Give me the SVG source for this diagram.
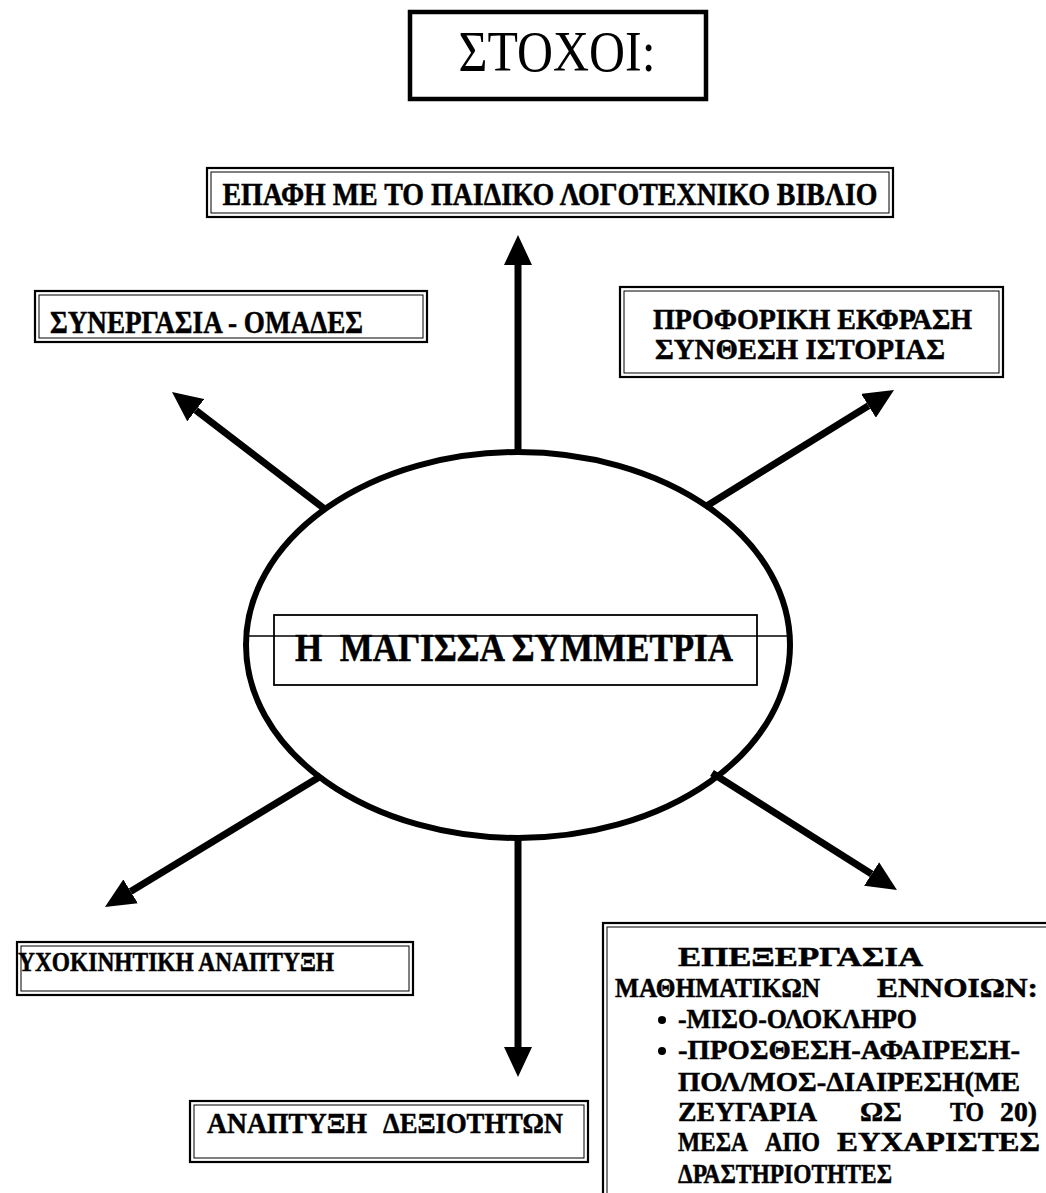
<svg xmlns="http://www.w3.org/2000/svg" width="1046" height="1193" viewBox="0 0 1046 1193">
<style>
.t{font-family:"Liberation Serif","Times New Roman",serif;font-weight:bold;fill:#000;stroke:#000;stroke-width:0.5}
.m{font-size:28px}
.o{fill:none;stroke:#000;stroke-width:2.2}
.i{fill:none;stroke:#000;stroke-width:1}
.ar{stroke:#000;stroke-width:7;fill:none}
</style>
<defs>
<marker id="ah" viewBox="0 0 30 28" refX="0" refY="14" markerWidth="30" markerHeight="28" markerUnits="userSpaceOnUse" orient="auto">
<path d="M0,0 L30,14 L0,28 z" fill="#000"/>
</marker>
</defs>
<rect width="1046" height="1193" fill="#fff"/>

<g id="title">
<rect x="410" y="12" width="296" height="87" fill="#fff" stroke="#000" stroke-width="4.5"/>
<text x="557" y="71" text-anchor="middle" font-family="Liberation Serif, Times New Roman, serif" font-size="57" textLength="197" lengthAdjust="spacingAndGlyphs">ΣΤΟΧΟΙ:</text>
</g>

<g id="connectors">
<line class="ar" x1="518" y1="454" x2="518" y2="265" marker-end="url(#ah)"/>
<line class="ar" x1="326" y1="510" x2="195.8" y2="410.2" marker-end="url(#ah)"/>
<line class="ar" x1="705" y1="507" x2="868.5" y2="405.8" marker-end="url(#ah)"/>
<line class="ar" x1="321" y1="776" x2="130.6" y2="891.4" marker-end="url(#ah)"/>
<line class="ar" x1="712" y1="773" x2="871.6" y2="874" marker-end="url(#ah)"/>
<line class="ar" x1="518" y1="836" x2="518" y2="1047" marker-end="url(#ah)"/>
</g>

<g id="center">
<ellipse cx="518" cy="645" rx="272" ry="193" fill="none" stroke="#000" stroke-width="6"/>
<rect x="274" y="615" width="483" height="70" fill="none" stroke="#000" stroke-width="1.8"/>
<line x1="248" y1="636" x2="790" y2="636" stroke="#000" stroke-width="1.5"/>
<text class="t" x="295" y="661" font-size="40" textLength="438" lengthAdjust="spacingAndGlyphs" xml:space="preserve">Η  ΜΑΓΙΣΣΑ ΣΥΜΜΕΤΡΙΑ</text>
</g>

<g id="top-goal">
<rect class="o" x="207" y="168" width="686" height="49"/>
<rect class="i" x="211" y="172" width="678" height="41"/>
<text class="t" x="550" y="205" font-size="31" text-anchor="middle" textLength="655" lengthAdjust="spacingAndGlyphs">ΕΠΑΦΗ ΜΕ ΤΟ ΠΑΙΔΙΚΟ ΛΟΓΟΤΕΧΝΙΚΟ ΒΙΒΛΙΟ</text>
</g>

<g id="cooperation">
<rect class="o" x="35" y="291" width="392" height="51"/>
<rect class="i" x="39" y="295" width="384" height="43"/>
<text class="t" x="50" y="333" font-size="31" textLength="313" lengthAdjust="spacingAndGlyphs">ΣΥΝΕΡΓΑΣΙΑ - ΟΜΑΔΕΣ</text>
</g>

<g id="oral">
<rect class="o" x="620" y="287" width="383" height="90"/>
<rect class="i" x="624" y="291" width="375" height="82"/>
<text class="t" x="653" y="329" font-size="30" textLength="319" lengthAdjust="spacingAndGlyphs">ΠΡΟΦΟΡΙΚΗ ΕΚΦΡΑΣΗ</text>
<text class="t" x="655" y="359" font-size="30" textLength="290" lengthAdjust="spacingAndGlyphs">ΣΥΝΘΕΣΗ ΙΣΤΟΡΙΑΣ</text>
</g>

<g id="psychomotor">
<rect class="o" x="17" y="942" width="396" height="53"/>
<rect class="i" x="21" y="946" width="388" height="45"/>
<text class="t" x="18" y="971" font-size="28" textLength="316" lengthAdjust="spacingAndGlyphs">ΥΧΟΚΙΝΗΤΙΚΗ ΑΝΑΠΤΥΞΗ</text>
</g>

<g id="skills">
<rect class="o" x="190" y="1101" width="398" height="61"/>
<rect class="i" x="194" y="1105" width="390" height="53"/>
<text class="t" x="207" y="1133" font-size="30" textLength="160" lengthAdjust="spacingAndGlyphs">ΑΝΑΠΤΥΞΗ</text>
<text class="t" x="383" y="1133" font-size="30" textLength="180" lengthAdjust="spacingAndGlyphs">ΔΕΞΙΟΤΗΤΩΝ</text>
</g>

<g id="math">
<rect class="o" x="603" y="923" width="460" height="300"/>
<rect class="i" x="607" y="927" width="452" height="292"/>
<text class="t m" x="678" y="966" textLength="245" lengthAdjust="spacingAndGlyphs">ΕΠΕΞΕΡΓΑΣΙΑ</text>
<text class="t m" x="615" y="997" textLength="205" lengthAdjust="spacingAndGlyphs">ΜΑΘΗΜΑΤΙΚΩΝ</text>
<text class="t m" x="877" y="997" textLength="161" lengthAdjust="spacingAndGlyphs">ΕΝΝΟΙΩΝ:</text>
<circle cx="662" cy="1020" r="4" fill="#000"/>
<text class="t m" x="678" y="1028" textLength="239" lengthAdjust="spacingAndGlyphs">-ΜΙΣΟ-ΟΛΟΚΛΗΡΟ</text>
<circle cx="662" cy="1051" r="4" fill="#000"/>
<text class="t m" x="678" y="1059" textLength="342" lengthAdjust="spacingAndGlyphs">-ΠΡΟΣΘΕΣΗ-ΑΦΑΙΡΕΣΗ-</text>
<text class="t m" x="678" y="1091" textLength="342" lengthAdjust="spacingAndGlyphs">ΠΟΛ/ΜΟΣ-ΔΙΑΙΡΕΣΗ(ΜΕ</text>
<text class="t m" x="678" y="1121" textLength="139" lengthAdjust="spacingAndGlyphs">ΖΕΥΓΑΡΙΑ</text>
<text class="t m" x="860" y="1121" textLength="42" lengthAdjust="spacingAndGlyphs">ΩΣ</text>
<text class="t m" x="950" y="1121" textLength="34" lengthAdjust="spacingAndGlyphs">ΤΟ</text>
<text class="t m" x="1000" y="1121" textLength="37" lengthAdjust="spacingAndGlyphs">20)</text>
<text class="t m" x="678" y="1151" textLength="70" lengthAdjust="spacingAndGlyphs">ΜΕΣΑ</text>
<text class="t m" x="765" y="1151" textLength="55" lengthAdjust="spacingAndGlyphs">ΑΠΟ</text>
<text class="t m" x="837" y="1151" textLength="203" lengthAdjust="spacingAndGlyphs">ΕΥΧΑΡΙΣΤΕΣ</text>
<text class="t m" x="678" y="1183" textLength="214" lengthAdjust="spacingAndGlyphs">ΔΡΑΣΤΗΡΙΟΤΗΤΕΣ</text>
</g>
</svg>
